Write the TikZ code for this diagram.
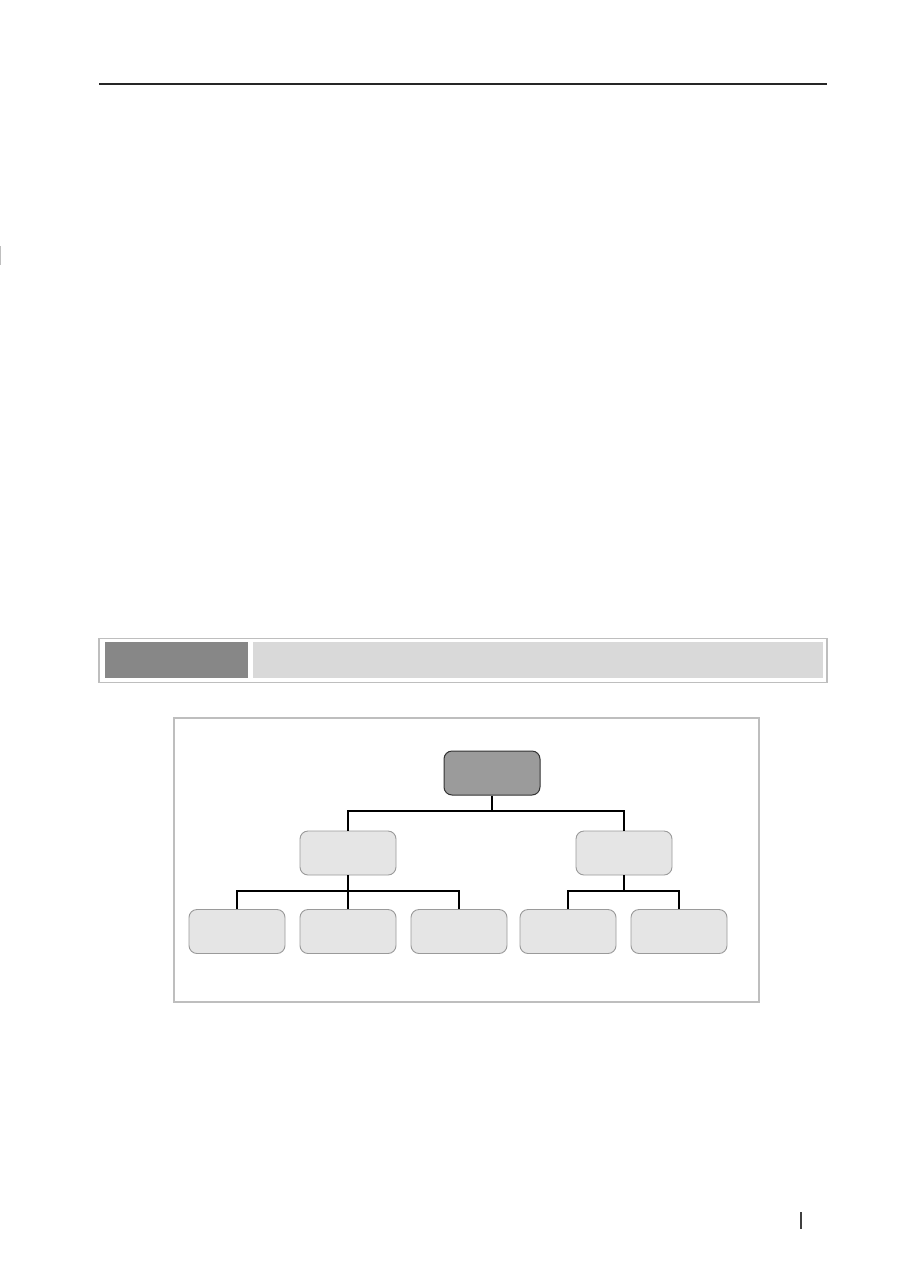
\documentclass[tikz,border=0pt]{standalone}
\usepackage{xcolor}
\definecolor{darkbox}{HTML}{878787}
\definecolor{lightbar}{HTML}{D9D9D9}
\definecolor{framegray}{HTML}{BEBEBE}
\definecolor{rootfill}{HTML}{9B9B9B}
\definecolor{leaffill}{HTML}{E5E5E5}
\definecolor{leafdraw}{HTML}{9A9A9A}

\begin{document}
\begin{tikzpicture}[x=1pt, y=-1pt,
	rootbox/.style={draw=black!80, fill=rootfill, line width=1pt, rounded corners=8pt, minimum width=96pt, minimum height=44pt, inner sep=0pt},
	leafbox/.style={draw=leafdraw, fill=leaffill, line width=0.9pt, rounded corners=8pt, minimum width=96pt, minimum height=44pt, inner sep=0pt},
	branch/.style={draw=black, line width=1.3pt}] % page in pixels

		\useasboundingbox (0,0) rectangle (917,1288);
		\fill[white] (0,0) rectangle (917,1288);

		% page marks
		\draw[black!85, line width=1.6pt] (99,84) -- (827,84);
		\draw[black!25, line width=1pt] (0.6,246) -- (0.6,265);
		\draw[black!75, line width=2pt] (801,1212) -- (801,1229);

		% heading bar
		\draw[framegray, line width=1.5pt] (99,638.5) rectangle (827,682.5);
		\fill[darkbox] (105,642) rectangle (248,678);
		\fill[lightbar] (253,642) rectangle (823,678);

		% tree
		\draw[framegray, line width=1.2pt] (174,718) rectangle (759,1002);
		\node[rootbox] (root) at (492,773) {};
		\node[leafbox] (ml) at (348,853) {};
		\node[leafbox] (mr) at (624,853) {};
		\node[leafbox] (b1) at (237,931.5) {};
		\node[leafbox] (b2) at (348,931.5) {};
		\node[leafbox] (b3) at (459,931.5) {};
		\node[leafbox] (b4) at (568,931.5) {};
		\node[leafbox] (b5) at (679,931.5) {};
		\coordinate (topbar) at (492,811);
		\coordinate (leftbar) at (348,891);
		\coordinate (rightbar) at (624,891);
		\draw[branch] (root.south) -- (topbar);
		\draw[branch] (ml.north) |- (topbar) -| (mr.north);
		\draw[branch] (ml.south) -- (leftbar) -- (b2.north);
		\draw[branch] (b1.north) |- (leftbar) -| (b3.north);
		\draw[branch] (mr.south) -- (rightbar);
		\draw[branch] (b4.north) |- (rightbar) -| (b5.north);
		\end{tikzpicture}
\end{document}
